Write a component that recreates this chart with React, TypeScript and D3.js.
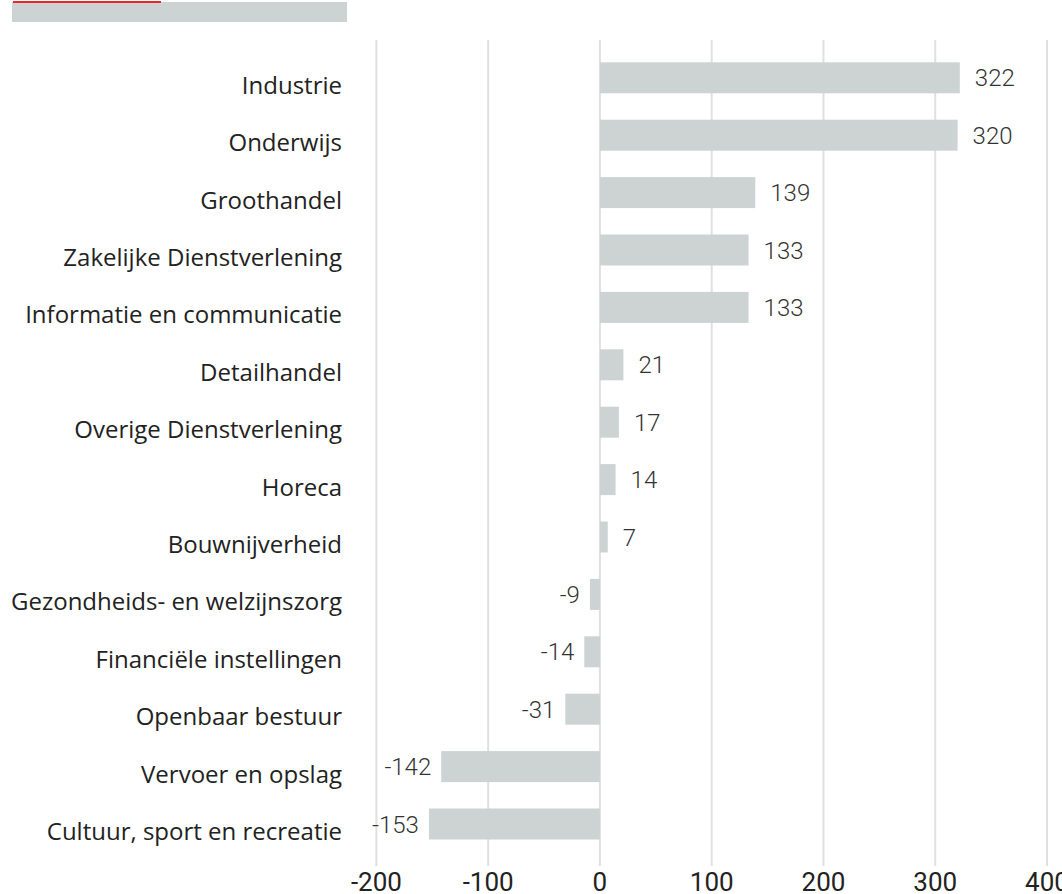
import { scaleBand, scaleLinear } from "d3";

const categories = [
  "Industrie",
  "Onderwijs",
  "Groothandel",
  "Zakelijke Dienstverlening",
  "Informatie en communicatie",
  "Detailhandel",
  "Overige Dienstverlening",
  "Horeca",
  "Bouwnijverheid",
  "Gezondheids- en welzijnszorg",
  "Financiële instellingen",
  "Openbaar bestuur",
  "Vervoer en opslag",
  "Cultuur, sport en recreatie",
];
const values = [322, 320, 139, 133, 133, 21, 17, 14, 7, -9, -14, -31, -142, -153];
const ticks = [-200, -100, 0, 100, 200, 300, 400];

export default function App() {
  const W = 1062;
  const H = 894;
  const x = scaleLinear().domain([-200, 400]).range([376.4, 1047]);
  const y = scaleBand<string>()
    .domain(categories)
    .range([49.1, 852.7])
    .paddingInner(0.46)
    .paddingOuter(0.23);
  const labelFont = "'Open Sans', 'Noto Sans', sans-serif";
  const numFont = "Roboto, 'Noto Sans', sans-serif";

  return (
    <svg
      width={W}
      height={H}
      style={{ position: "absolute", left: 0, top: 0, background: "#fff" }}
    >
      {/* header placeholder */}
      <rect x={12} y={2} width={335} height={20} fill="#cdd3d3" />
      <rect x={13} y={1} width={148} height={2} fill="#e8262b" />

      {ticks.map((t) => (
        <line
          key={t}
          x1={x(t)}
          x2={x(t)}
          y1={40}
          y2={866}
          stroke="#e0e0e0"
          strokeWidth={2}
        />
      ))}

      {categories.map((c, i) => {
        const v = values[i];
        const x0 = x(Math.min(0, v));
        const x1 = x(Math.max(0, v));
        const yc = (y(c) as number) + y.bandwidth() / 2;
        return (
          <g key={c}>
            <rect
              x={x0}
              y={y(c)}
              width={x1 - x0}
              height={y.bandwidth()}
              fill="#cdd3d3"
            />
            <text
              x={342}
              y={yc + 16}
              textAnchor="end"
              fontFamily={labelFont}
              fontSize={24}
              fill="#222"
            >
              {c}
            </text>
            <text
              x={v >= 0 ? x(v) + 15 : x(v) - 10}
              y={yc + 8.5}
              textAnchor={v >= 0 ? "start" : "end"}
              fontFamily={numFont}
              fontWeight={300}
              fontSize={24}
              fill="#333"
            >
              {v}
            </text>
          </g>
        );
      })}

      {ticks.map((t) => (
        <text
          key={t}
          x={x(t)}
          y={891}
          textAnchor="middle"
          fontFamily={numFont}
          fontSize={26}
          fill="#222"
        >
          {t}
        </text>
      ))}
    </svg>
  );
}
